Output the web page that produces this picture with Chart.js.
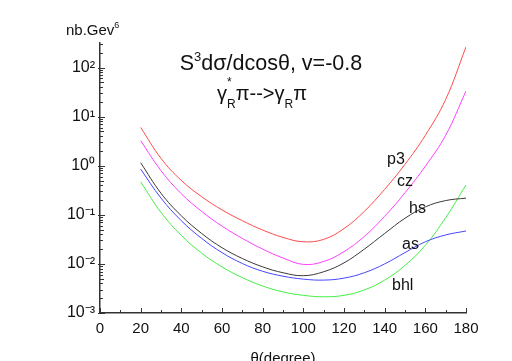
<!DOCTYPE html>
<html>
<head>
<meta charset="utf-8">
<script src="https://cdn.jsdelivr.net/npm/chart.js@4.4.1/dist/chart.umd.min.js"></script>
<style>
  html, body { margin: 0; padding: 0; background: #fff; }
  #wrap { width: 512px; height: 361px; }
</style>
</head>
<body>
<div id="wrap"><canvas id="grafica" width="512" height="361"></canvas></div>
<script>
// angulos (grados)
const angles = [20, 30, 40, 50, 60, 70, 80, 90, 100, 110, 120, 130, 140, 150, 160, 170, 180];

// valores de cada curva, nb.Gev^6
const p3  = [6.03, 1.41, 0.501, 0.234, 0.126, 0.0759, 0.049, 0.0347, 0.0282, 0.0316, 0.0525, 0.1175, 0.331, 1.07, 4.17, 22.4, 263];
const cz  = [3.24, 0.794, 0.269, 0.1175, 0.0589, 0.0331, 0.02, 0.0132, 0.00977, 0.0112, 0.0178, 0.0363, 0.0933, 0.282, 0.977, 4.17, 33.1];
const hs  = [1.15, 0.275, 0.0955, 0.0417, 0.0214, 0.0129, 0.00871, 0.00661, 0.00575, 0.00692, 0.0105, 0.02, 0.0417, 0.0851, 0.145, 0.195, 0.219];
const as  = [0.851, 0.219, 0.0759, 0.0331, 0.017, 0.0102, 0.00708, 0.00562, 0.0049, 0.00468, 0.00513, 0.00661, 0.01, 0.017, 0.0282, 0.0389, 0.0468];
const bhl = [0.468, 0.112, 0.038, 0.0166, 0.00871, 0.00525, 0.00355, 0.00269, 0.00229, 0.00214, 0.00229, 0.00295, 0.00468, 0.00933, 0.024, 0.0871, 0.407];

// ejes
const xTicks = [0, 20, 40, 60, 80, 100, 120, 140, 160, 180];
const yExps = [-3, -2, -1, 0, 1, 2];
const supers = { '-': '\u207B', '0': '\u2070', '1': '\u00B9', '2': '\u00B2', '3': '\u00B3' };

const FONT = '"Liberation Sans", Arial, sans-serif';
const AXIS = '#333333';

// dibuja texto con partes de distinto tamaño (super/subindices)
function runs(ctx, x, y, parts) {
    parts.forEach(p => {
        ctx.font = p.size + 'px ' + FONT;
        ctx.fillText(p.t, x, y + (p.dy || 0));
        if (!p.stay) x += ctx.measureText(p.t).width;
    });
    return x;
}
function runsWidth(ctx, parts) {
    let w = 0;
    parts.forEach(p => {
        ctx.font = p.size + 'px ' + FONT;
        if (!p.stay) w += ctx.measureText(p.t).width;
    });
    return w;
}

const textos = {
    id: 'textos',
    afterDraw(chart) {
        const ctx = chart.ctx;
        const xs = chart.scales.x, ys = chart.scales.y;
        ctx.save();
        ctx.strokeStyle = AXIS;
        ctx.lineWidth = 1;

        // marcas del eje y (hacia dentro)
        const left = xs.left;
        for (let d = -3; d <= 2; d++) {
            for (let m = 1; m <= 9; m++) {
                const v = m * Math.pow(10, d);
                if (v > ys.max) break;
                const py = Math.round(ys.getPixelForValue(v)) + 0.5;
                const len = m === 1 ? 5 : (m === 5 ? 4 : 3);
                ctx.beginPath();
                ctx.moveTo(left - (m === 1 ? 2 : 0), py);
                ctx.lineTo(left + len, py);
                ctx.stroke();
            }
        }
        // marcas del eje x
        const bottom = ys.bottom;
        for (let t = 0; t <= 180; t += 10) {
            const px = Math.round(xs.getPixelForValue(t)) + 0.5;
            const len = t % 20 === 0 ? 5 : 3;
            ctx.beginPath();
            ctx.moveTo(px, bottom);
            ctx.lineTo(px, bottom - len);
            ctx.stroke();
        }

        ctx.fillStyle = '#111';
        ctx.textBaseline = 'alphabetic';
        ctx.textAlign = 'left';

        // titulo del eje y
        runs(ctx, 66, 35, [{ t: 'nb.Gev', size: 15 }, { t: '6', size: 9, dy: -7 }]);

        // titulo principal
        const t1 = [
            { t: 'S', size: 21.5 },
            { t: '3', size: 13, dy: -9 },
            { t: 'd\u03C3/dcos\u03B8, v=-0.8', size: 21.5 }
        ];
        runs(ctx, 271 - runsWidth(ctx, t1) / 2, 70, t1);

        const t2 = [
            { t: '\u03B3', size: 20 },
            { t: '*', size: 12, dy: -14, stay: true },
            { t: 'R', size: 12, dy: 8 },
            { t: '\u03C0-->\u03B3', size: 20 },
            { t: 'R', size: 12, dy: 8 },
            { t: '\u03C0', size: 20 }
        ];
        runs(ctx, 217, 100, t2);

        // etiquetas de curvas
        ctx.font = '16px ' + FONT;
        ctx.fillText('p3', 387, 164);
        ctx.fillText('cz', 397, 186);
        ctx.fillText('hs', 409, 213);
        ctx.fillText('as', 402, 249);
        ctx.fillText('bhl', 392, 290);

        // titulo del eje x
        ctx.font = '15px ' + FONT;
        ctx.textAlign = 'center';
        ctx.fillText('\u03B8(degree)', xs.getPixelForValue(90), 363);
        ctx.restore();
    }
};

function serie(label, data, color) {
    return {
        label: label,
        data: data.map((v, i) => ({ x: angles[i], y: v })),
        borderColor: color,
        borderWidth: 1,
        pointRadius: 0,
        fill: false,
        tension: 0.4
    };
}

const ctx = document.getElementById('grafica').getContext('2d');
new Chart(ctx, {
    type: 'line',
    data: {
        datasets: [
            serie('p3', p3, '#ff4a4a'),
            serie('cz', cz, '#ff40ff'),
            serie('hs', hs, '#3a3a3a'),
            serie('as', as, '#4646ff'),
            serie('bhl', bhl, '#44ee44')
        ]
    },
    options: {
        responsive: false,
        animation: false,
        layout: { padding: { top: 43, right: 46, left: 0, bottom: 0 } },
        plugins: { legend: { display: false }, tooltip: { enabled: false } },
        scales: {
            x: {
                type: 'linear',
                min: 0,
                max: 180,
                afterBuildTicks: s => { s.ticks = xTicks.map(v => ({ value: v })); },
                afterFit: s => { s.height = 48; },
                grid: { display: false, drawTicks: false },
                border: { display: true, color: AXIS, width: 1.5 },
                ticks: {
                    padding: 7,
                    maxRotation: 0,
                    autoSkip: false,
                    color: '#111',
                    font: { family: FONT, size: 15 }
                }
            },
            y: {
                type: 'logarithmic',
                min: 1e-3,
                max: Math.pow(10, 2.5),
                afterBuildTicks: s => { s.ticks = yExps.map(e => ({ value: Math.pow(10, e) })); },
                afterFit: s => { s.width = 100; },
                grid: { display: false, drawTicks: false },
                border: { display: true, color: AXIS, width: 1.5 },
                ticks: {
                    padding: 5,
                    autoSkip: false,
                    color: '#111',
                    font: { family: FONT, size: 16 },
                    callback: function (v) {
                        const e = Math.round(Math.log10(v));
                        return '10' + String(e).split('').map(c => supers[c]).join('');
                    }
                }
            }
        }
    },
    plugins: [textos]
});
</script>
</body>
</html>
